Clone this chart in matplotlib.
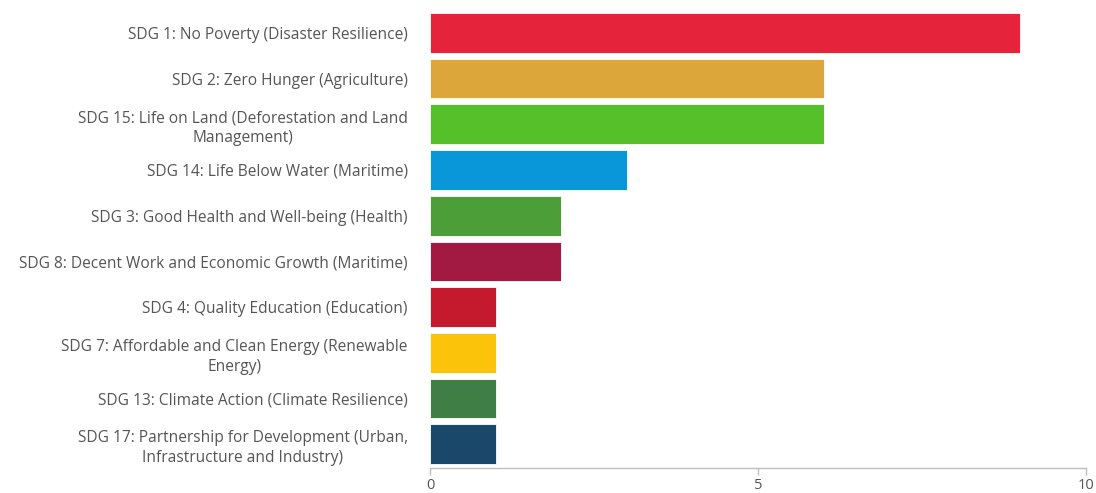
import matplotlib
matplotlib.use("Agg")
import matplotlib.pyplot as plt

categories = [
    "SDG 1: No Poverty (Disaster Resilience)",
    "SDG 2: Zero Hunger (Agriculture)",
    "SDG 15: Life on Land (Deforestation and Land\nManagement)",
    "SDG 14: Life Below Water (Maritime)",
    "SDG 3: Good Health and Well-being (Health)",
    "SDG 8: Decent Work and Economic Growth (Maritime)",
    "SDG 4: Quality Education (Education)",
    "SDG 7: Affordable and Clean Energy (Renewable\nEnergy)",
    "SDG 13: Climate Action (Climate Resilience)",
    "SDG 17: Partnership for Development (Urban,\nInfrastructure and Industry)",
]
values = [9, 6, 6, 3, 2, 2, 1, 1, 1, 1]
colors = ["#E5243B", "#DDA63A", "#56C02B", "#0A97D9", "#4C9F38",
          "#A21942", "#C5192D", "#FCC30B", "#3F7E44", "#19486A"]
x_ticks = [0, 5, 10]

plt.rcParams["font.family"] = ["Open Sans", "DejaVu Sans"]
text_color = "#555555"

fig = plt.figure(figsize=(10.96, 4.93), dpi=100)
ax = fig.add_axes([430 / 1096, 1 - 468 / 493, 656 / 1096, 458 / 493])

ypos = list(range(len(categories)))
ax.barh(ypos, values, height=0.87, color=colors, edgecolor="white", linewidth=0.6)

ax.set_xlim(0, 10)
ax.set_ylim(9.52, -0.5)
ax.set_yticks(ypos)
ax.set_yticklabels(categories, fontsize=11.2, color=text_color,
                   multialignment="center", linespacing=1.35)
ax.tick_params(axis="y", length=0, pad=16)

ax.set_xticks(x_ticks)
ax.set_xticklabels([str(t) for t in x_ticks], fontsize=10.5, color=text_color)
ax.tick_params(axis="x", length=5, width=1, color="#BFBFBF", pad=2)

for side in ["top", "right", "left"]:
    ax.spines[side].set_visible(False)
ax.spines["bottom"].set_color("#BFBFBF")
ax.spines["bottom"].set_linewidth(1)

fig.savefig("out.png", dpi=100, facecolor="white")
